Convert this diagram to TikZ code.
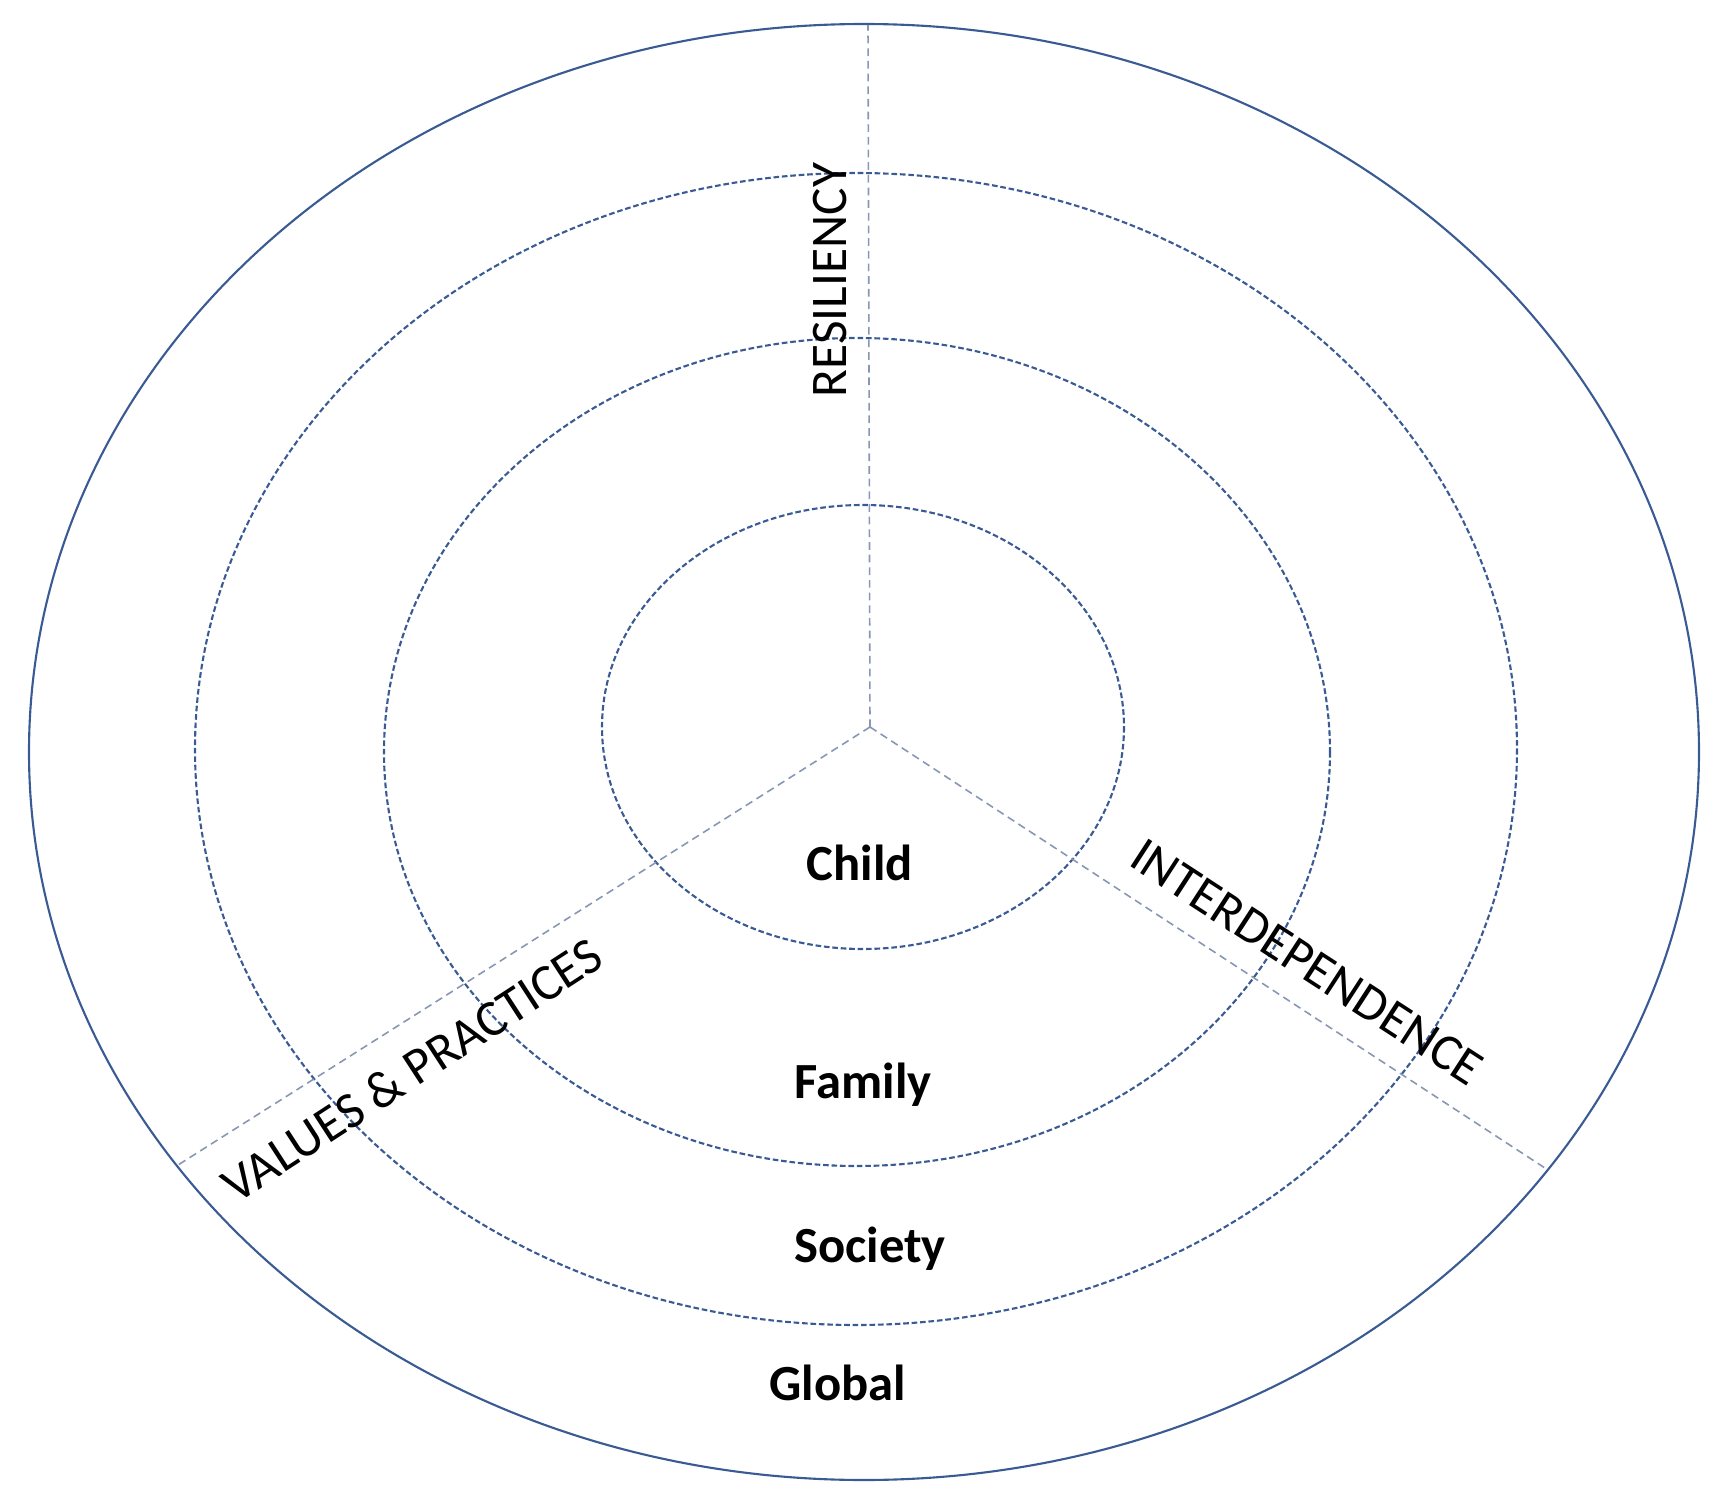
\documentclass[tikz,border=0pt]{standalone}
\usepackage{fontspec}
\setmainfont{Carlito}
\usepackage{tikz}
\definecolor{ringblue}{HTML}{3A5A94}
\definecolor{spokegrey}{HTML}{8797B3}

\begin{document}
\begin{tikzpicture}[x=0.01cm,y=-0.01cm,
    ring/.style={ringblue,line width=0.6pt,dash pattern=on 1.6pt off 0.8pt},
    spoke/.style={spokegrey,line width=0.45pt,dash pattern=on 2.2pt off 1.4pt},
    layer/.style={anchor=base,font=\fontsize{14.4}{17}\selectfont\bfseries},
    theme/.style={inner sep=0pt,font=\fontsize{14.6}{17}\selectfont}]
      \useasboundingbox (0,0) rectangle (1726,1506);
      \draw[ringblue,line width=0.6pt] (864,752) ellipse [x radius=835,y radius=728];
      \draw[ring] (856,749) ellipse [x radius=661,y radius=576];
      \draw[ring] (857,752) ellipse [x radius=473,y radius=414];
      \draw[ring] (863,727) ellipse [x radius=261,y radius=222];
      \coordinate (hub) at (870,727);
      \coordinate (topend) at (868,25);
      \coordinate (leftend) at (178,1165);
      \coordinate (rightend) at (1548,1170);
      \draw[spoke] (hub) -- (topend);
      \draw[spoke] (hub) -- (leftend);
      \draw[spoke] (hub) -- (rightend);
      \node[layer] (child) at (860,880) {Child};
      \node[layer] (family) at (863,1098) {Family};
      \node[layer] (society) at (870,1262) {Society};
      \node[layer] (global) at (838,1400) {Global};
      \node[theme,rotate=90] (resiliency) at (830,280) {RESILIENCY};
      \node[theme,rotate=-33] (interdep) at (1307,962) {INTERDEPENDENCE};
      \node[theme,rotate=33] (values) at (412,1070) {VALUES \& PRACTICES};
    \end{tikzpicture}
\end{document}
